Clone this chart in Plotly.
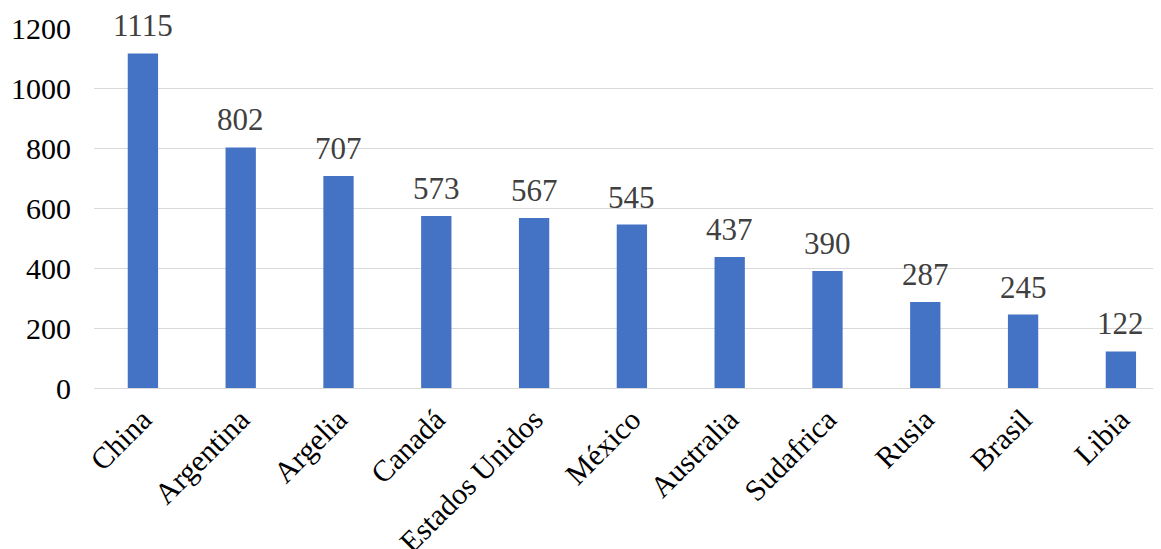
import plotly.graph_objects as go

countries = ["China", "Argentina", "Argelia", "Canadá", "Estados Unidos", "México",
             "Australia", "Sudafrica", "Rusia", "Brasil", "Libia"]
values = [1115, 802, 707, 573, 567, 545, 437, 390, 287, 245, 122]
y_ticks = [0, 200, 400, 600, 800, 1000, 1200]

FONT = "Liberation Serif, Times New Roman, serif"
FS = 30
FS_LABEL = 31

# page body adds an 8px offset; compensate in margins
fig = go.Figure()
fig.add_trace(go.Bar(
    x=countries, y=values,
    marker=dict(color="#4472C4", line=dict(width=0)),
    hoverinfo="x+y",
))

for c, v in zip(countries, values):
    fig.add_annotation(x=c, y=v, text=str(v), showarrow=False,
                       yanchor="bottom", yshift=8,
                       font=dict(family=FONT, size=FS_LABEL, color="#404040"))

fig.update_layout(
    width=1161, height=549,
    margin=dict(l=86, r=9, t=20, b=169),
    paper_bgcolor="white", plot_bgcolor="white",
    bargap=0.69,
    showlegend=False,
    font=dict(family=FONT, size=FS, color="black"),
    xaxis=dict(
        type="category",
        range=[-0.5, 10.40],
        tickangle=-45,
        tickfont=dict(family=FONT, size=FS, color="black"),
        showgrid=False, zeroline=False, showline=False,
        ticks="",
        ticklabelstandoff=7,
        automargin=False,
    ),
    yaxis=dict(
        range=[0, 1200],
        tickvals=y_ticks,
        tickfont=dict(family=FONT, size=FS, color="black"),
        showgrid=True, gridcolor="#D9D9D9", gridwidth=1.3,
        zeroline=True, zerolinecolor="#D9D9D9", zerolinewidth=1.3,
        showline=False, ticks="",
        ticklabelstandoff=22,
        automargin=False,
    ),
)

fig.write_html("out.html")
